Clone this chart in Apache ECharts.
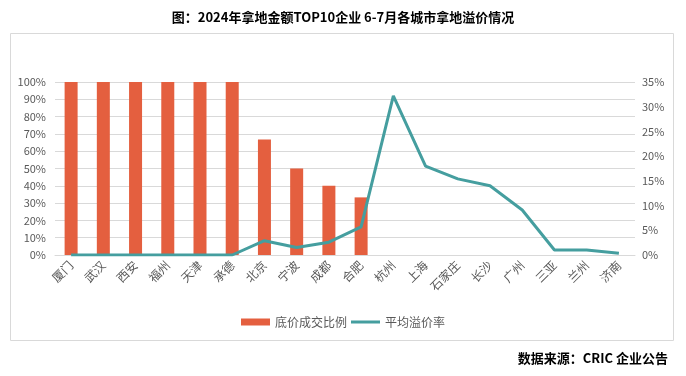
<!DOCTYPE html>
<html>
<head>
<meta charset="utf-8">
<script src="https://cdn.jsdelivr.net/npm/echarts@6/dist/echarts.min.js"></script>
<style>
  html, body { margin: 0; padding: 0; background: #fff; }
  #chart { width: 686px; height: 376px; }
</style>
</head>
<body>
<div id="chart"></div>
<script>
// 城市
const cities = ['厦门', '武汉', '西安', '福州', '天津', '承德', '北京', '宁波', '成都', '合肥',
  '杭州', '上海', '石家庄', '长沙', '广州', '三亚', '兰州', '济南'];
// 底价成交比例 (%)
const floorRatio = [100, 100, 100, 100, 100, 100, 66.7, 50, 40, 33.3,
  '-', '-', '-', '-', '-', '-', '-', '-'];
// 平均溢价率 (%)
const premiumRate = [0, 0, 0, 0, 0, 0, 2.9, 1.5, 2.6, 5.7,
  32.2, 18.0, 15.4, 14.0, 9.1, 1.0, 1.0, 0.35];

const textColor = '#595959';
const gridColor = '#D9D9D9';
const font = '"Noto Sans CJK SC", "Noto Sans", sans-serif';

const myChart = echarts.init(document.getElementById('chart'));

myChart.setOption({
  animation: false,
  title: [
    {
      text: '图：2024年拿地金额TOP10企业 6-7月各城市拿地溢价情况',
      left: 'center',
      top: 6,
      textStyle: { fontSize: 13, fontWeight: 'bold', color: '#000', fontFamily: font },
    },
    {
      text: '数据来源：CRIC 企业公告',
      right: 13,
      top: 347,
      textStyle: { fontSize: 13, fontWeight: 'bold', color: '#000', fontFamily: font },
    },
  ],
  graphic: [
    {
      // 外枠
      type: 'rect',
      shape: { x: 10.5, y: 33.5, width: 663, height: 307 },
      style: { fill: 'none', stroke: gridColor, lineWidth: 1 },
      silent: true,
    },
  ],
  legend: {
    top: 311,
    left: 'center',
    itemWidth: 29,
    itemHeight: 7,
    itemGap: 4,
    textStyle: { fontSize: 12, color: textColor, fontFamily: font },
    data: [
      { name: '底价成交比例', icon: 'rect' },
      {
        // 線だけの凡例アイコン（上下の極小片で枠の高さを保つ）
        name: '平均溢价率',
        icon: 'path://M0,0L0.1,0L0.1,0.01Z M0,2L29,2L29,5L0,5Z M28.9,7L29,7L29,6.99Z',
      },
    ],
  },
  grid: {
    left: 55,
    right: 51,
    top: 82,
    bottom: 121,
  },
  xAxis: {
    type: 'category',
    data: cities,
    axisLine: { lineStyle: { color: gridColor } },
    axisTick: { show: false },
    axisLabel: {
      rotate: 45,
      interval: 0,
      margin: 8,
      fontSize: 12,
      color: textColor,
      fontFamily: font,
    },
  },
  yAxis: [
    {
      // 底价成交比例 Y軸
      type: 'value',
      min: 0,
      max: 100,
      interval: 10,
      axisLabel: { formatter: '{value}%', fontSize: 11, color: textColor, margin: 9, fontFamily: font },
      axisLine: { show: false },
      axisTick: { show: false },
      splitLine: { lineStyle: { color: gridColor } },
    },
    {
      // 平均溢价率 Y軸
      type: 'value',
      min: 0,
      max: 35,
      interval: 5,
      axisLabel: { formatter: '{value}%', fontSize: 11, color: textColor, margin: 7, fontFamily: font },
      axisLine: { show: false },
      axisTick: { show: false },
      splitLine: { show: false },
    },
  ],
  series: [
    {
      name: '底价成交比例',
      type: 'bar',
      data: floorRatio,
      barWidth: 13,
      itemStyle: { color: '#E45F3F' },
    },
    {
      name: '平均溢价率',
      type: 'line',
      yAxisIndex: 1,
      data: premiumRate,
      symbol: 'none',
      lineStyle: { color: '#459E9F', width: 3 },
      itemStyle: { color: '#459E9F' },
    },
  ],
});
</script>
</body>
</html>
